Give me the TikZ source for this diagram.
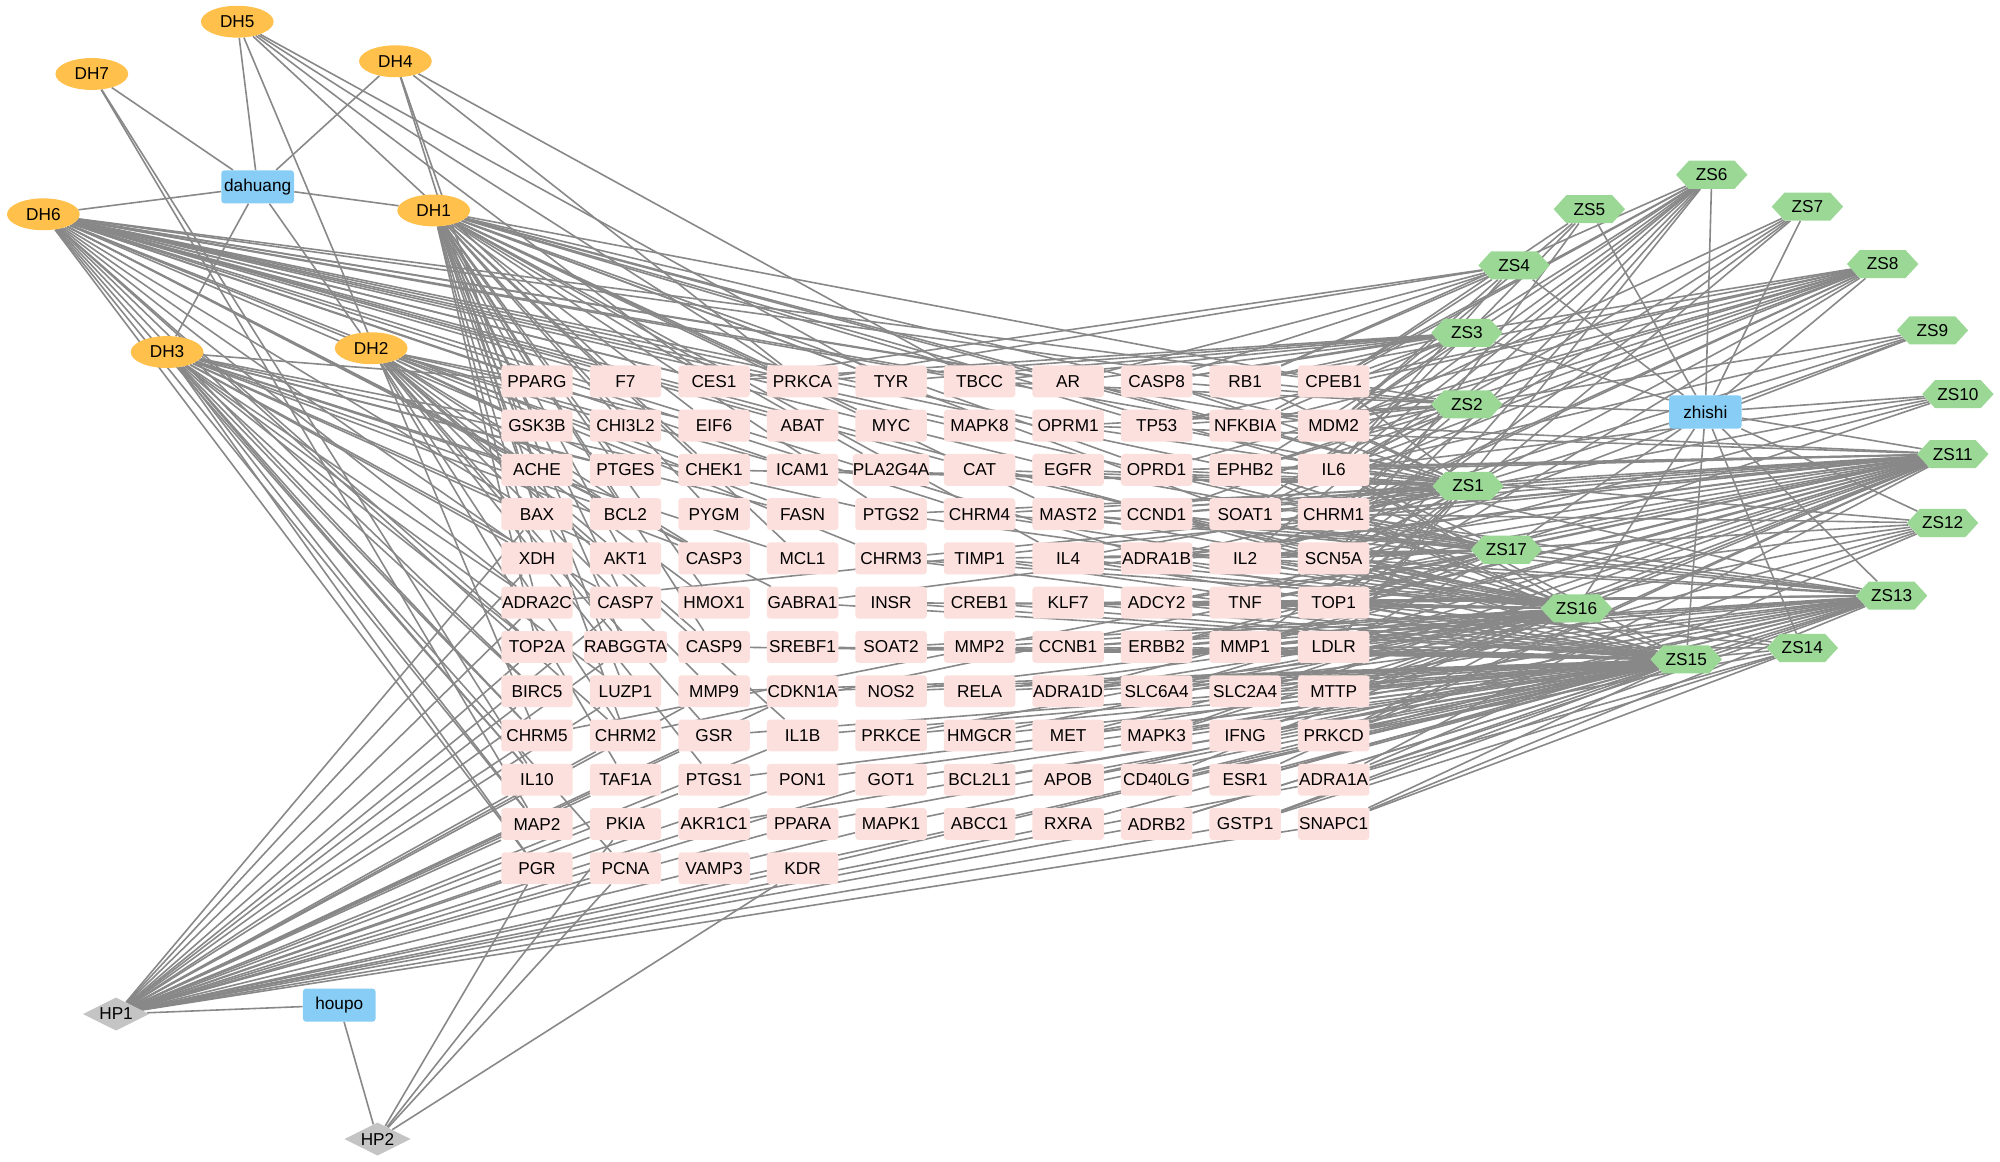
\documentclass[tikz,border=0pt]{standalone}
\usepackage{fontspec}
\setmainfont{Liberation Sans}
\usetikzlibrary{shapes.geometric,shapes.symbols,backgrounds}
\definecolor{tgtfill}{RGB}{252,224,222}
\definecolor{dhfill}{RGB}{255,192,76}
\definecolor{zsfill}{RGB}{155,216,150}
\definecolor{hpfill}{RGB}{196,196,196}
\definecolor{herbfill}{RGB}{135,205,245}
\definecolor{edgecol}{RGB}{136,136,136}
\begin{document}
\begin{tikzpicture}[x=1pt,y=-1pt,
  every node/.style={font=\fontsize{13.5}{15}\selectfont, inner sep=0pt, text=black},
  tgt/.style={rectangle, rounded corners=2.5pt, fill=tgtfill, minimum width=56pt, minimum height=25pt},
  herb/.style={rectangle, rounded corners=2.5pt, fill=herbfill, minimum width=57pt, minimum height=26pt},
  dh/.style={ellipse, fill=dhfill, minimum width=57pt, minimum height=25pt},
  zs/.style={signal, signal to=east and west, signal pointer angle=95, fill=zsfill, minimum width=56pt, minimum height=22pt},
  hp/.style={diamond, aspect=2, fill=hpfill, minimum width=52pt, minimum height=26pt},
  edge/.style={draw=edgecol, line width=1.25pt}]
\useasboundingbox (0,0) rectangle (1568,911);

% ---- targets grid ----
\foreach \n [count=\i from 0] in {PPARG,F7,CES1,PRKCA,TYR,TBCC,AR,CASP8,RB1,CPEB1} \node[tgt] (\n) at ({421+69.4*\i},299) {\n};
\foreach \n [count=\i from 0] in {GSK3B,CHI3L2,EIF6,ABAT,MYC,MAPK8,OPRM1,TP53,NFKBIA,MDM2} \node[tgt] (\n) at ({421+69.4*\i},333.7) {\n};
\foreach \n [count=\i from 0] in {ACHE,PTGES,CHEK1,ICAM1,PLA2G4A,CAT,EGFR,OPRD1,EPHB2,IL6} \node[tgt] (\n) at ({421+69.4*\i},368.4) {\n};
\foreach \n [count=\i from 0] in {BAX,BCL2,PYGM,FASN,PTGS2,CHRM4,MAST2,CCND1,SOAT1,CHRM1} \node[tgt] (\n) at ({421+69.4*\i},403.1) {\n};
\foreach \n [count=\i from 0] in {XDH,AKT1,CASP3,MCL1,CHRM3,TIMP1,IL4,ADRA1B,IL2,SCN5A} \node[tgt] (\n) at ({421+69.4*\i},437.8) {\n};
\foreach \n [count=\i from 0] in {ADRA2C,CASP7,HMOX1,GABRA1,INSR,CREB1,KLF7,ADCY2,TNF,TOP1} \node[tgt] (\n) at ({421+69.4*\i},472.5) {\n};
\foreach \n [count=\i from 0] in {TOP2A,RABGGTA,CASP9,SREBF1,SOAT2,MMP2,CCNB1,ERBB2,MMP1,LDLR} \node[tgt] (\n) at ({421+69.4*\i},507.2) {\n};
\foreach \n [count=\i from 0] in {BIRC5,LUZP1,MMP9,CDKN1A,NOS2,RELA,ADRA1D,SLC6A4,SLC2A4,MTTP} \node[tgt] (\n) at ({421+69.4*\i},541.9) {\n};
\foreach \n [count=\i from 0] in {CHRM5,CHRM2,GSR,IL1B,PRKCE,HMGCR,MET,MAPK3,IFNG,PRKCD} \node[tgt] (\n) at ({421+69.4*\i},576.6) {\n};
\foreach \n [count=\i from 0] in {IL10,TAF1A,PTGS1,PON1,GOT1,BCL2L1,APOB,CD40LG,ESR1,ADRA1A} \node[tgt] (\n) at ({421+69.4*\i},611.3) {\n};
\foreach \n [count=\i from 0] in {MAP2,PKIA,AKR1C1,PPARA,MAPK1,ABCC1,RXRA,ADRB2,GSTP1,SNAPC1} \node[tgt] (\n) at ({421+69.4*\i},646) {\n};
\foreach \n [count=\i from 0] in {PGR,PCNA,VAMP3,KDR} \node[tgt] (\n) at ({421+69.4*\i},680.7) {\n};

% ---- dahuang ----
\node[dh] (DH5) at (186,17) {DH5};
\node[dh] (DH7) at (72,58) {DH7};
\node[dh] (DH4) at (310,48) {DH4};
\node[herb] (dahuang) at (202,146.5) {dahuang};
\node[dh] (DH6) at (34,168) {DH6};
\node[dh] (DH1) at (340,165) {DH1};
\node[dh] (DH3) at (131,276) {DH3};
\node[dh] (DH2) at (291,273) {DH2};

% ---- houpo ----
\node[hp] (HP1) at (91,795) {HP1};
\node[herb] (houpo) at (266,788) {houpo};
\node[hp] (HP2) at (296,893) {HP2};

% ---- zhishi ----
\node[zs] (ZS6) at (1342,137) {ZS6};
\node[zs] (ZS5) at (1246,164) {ZS5};
\node[zs] (ZS7) at (1417,162) {ZS7};
\node[zs] (ZS4) at (1187,208) {ZS4};
\node[zs] (ZS8) at (1476,207) {ZS8};
\node[zs] (ZS3) at (1150,261) {ZS3};
\node[zs] (ZS9) at (1515,259) {ZS9};
\node[herb] (zhishi) at (1337,323) {zhishi};
\node[zs] (ZS2) at (1150,317) {ZS2};
\node[zs] (ZS10) at (1535,309) {ZS10};
\node[zs] (ZS11) at (1531,356) {ZS11};
\node[zs] (ZS1) at (1151,381) {ZS1};
\node[zs] (ZS12) at (1523,410) {ZS12};
\node[zs] (ZS17) at (1181,431) {ZS17};
\node[zs] (ZS13) at (1483,467) {ZS13};
\node[zs] (ZS16) at (1236,477) {ZS16};
\node[zs] (ZS14) at (1413,508) {ZS14};
\node[zs] (ZS15) at (1322,517) {ZS15};

\begin{pgfonlayer}{background}
% herb - compound
\foreach \c in {DH1,DH2,DH3,DH4,DH5,DH6,DH7} \draw[edge] (dahuang) -- (\c);
\foreach \c in {HP1,HP2} \draw[edge] (houpo) -- (\c);
\foreach \c in {ZS1,ZS2,ZS3,ZS4,ZS5,ZS6,ZS7,ZS8,ZS9,ZS10,ZS11,ZS12,ZS13,ZS14,ZS15,ZS16,ZS17} \draw[edge] (zhishi) -- (\c);

% dahuang compounds
\foreach \t in {PPARG,CES1,PRKCA,TYR,AR,GSK3B,CHI3L2,EIF6,MYC,TP53,MDM2,NFKBIA,CPEB1,ACHE,PTGES,CHEK1,PLA2G4A,OPRD1,IL6,BAX,BCL2,PYGM,PTGS2,MAST2,SOAT1,XDH,AKT1,MCL1,IL4,ADRA2C,CASP7,HMOX1,TOP2A,RABGGTA,CASP9,LUZP1,CHRM2} \draw[edge] (DH1) -- (\t);
\foreach \t in {PPARG,F7,CES1,PRKCA,TBCC,AR,RB1,CPEB1,GSK3B,ABAT,MAPK8,NFKBIA,MDM2,OPRM1,ACHE,ICAM1,CAT,EGFR,EPHB2,BAX,FASN,CHRM4,CHRM1,XDH,CASP3,CHRM3,ADRA1B,SCN5A,ADRA2C,GABRA1,TOP2A,BIRC5,CHRM5,CHRM2,IL10,MAP2,PGR} \draw[edge] (DH6) -- (\t);
\foreach \t in {PPARG,GSK3B,ACHE,PTGES,BAX,BCL2,FASN,XDH,AKT1,CASP3,ADRA2C,CASP7,TOP2A,BIRC5,LUZP1,CHRM5,IL10,MAP2,PGR,PCNA,PTGS2,MCL1} \draw[edge] (DH3) -- (\t);
\foreach \t in {PPARG,GSK3B,CHI3L2,PTGES,CHEK1,BCL2,AKT1,CASP3,HMOX1,RABGGTA,CASP9,MMP9,CHRM2,GSR,TAF1A,PTGS1,IL1B,ICAM1,EIF6} \draw[edge] (DH2) -- (\t);
\foreach \t in {F7,CES1,PRKCA,TYR,CHRM5} \draw[edge] (DH5) -- (\t);
\foreach \t in {ACHE,BAX,PRKCA,TBCC} \draw[edge] (DH4) -- (\t);
\foreach \t in {IL10,MAP2} \draw[edge] (DH7) -- (\t);

% houpo compounds
\foreach \t in {BAX,XDH,ADRA2C,TOP2A,BIRC5,CHRM5,CHRM2,IL10,TAF1A,MAP2,PKIA,PGR,PCNA,AKR1C1,PTGS1,GSR,MMP9,LUZP1,RABGGTA,CASP7,PON1,PPARA,MAPK1,GOT1,ABCC1,RXRA,ADRB2,GSTP1,KDR,IL1B,CDKN1A,SNAPC1,ADRA1A} \draw[edge] (HP1) -- (\t);
\foreach \t in {PGR,PCNA,PKIA,KDR} \draw[edge] (HP2) -- (\t);

% zhishi compounds
\foreach \t in {AR,CASP8,RB1,CPEB1,TP53,NFKBIA,MDM2,OPRM1,EGFR,OPRD1,EPHB2,IL6,MAST2,CCND1,SOAT1,CHRM1,IL2,SCN5A,ADRA1B,TNF,TOP1,LDLR,MMP1,PTGS2,ICAM1,CHEK1,CAT,IL4} \draw[edge] (ZS1) -- (\t);
\foreach \t in {CPEB1,MDM2,IL6,RB1,TP53,CASP8,EPHB2,NFKBIA,CHRM1,SOAT1,OPRM1,TBCC} \draw[edge] (ZS2) -- (\t);
\foreach \t in {CPEB1,RB1,CASP8,AR,PRKCA,MDM2,NFKBIA,TYR,CES1,TBCC} \draw[edge] (ZS3) -- (\t);
\foreach \t in {CPEB1,RB1,CASP8,MDM2,IL6,PRKCA,CES1,AR} \draw[edge] (ZS4) -- (\t);
\foreach \t in {CPEB1,MDM2,SCN5A,IL6} \draw[edge] (ZS5) -- (\t);
\foreach \t in {CPEB1,RB1,MDM2,NFKBIA,IL6,EPHB2,CHRM1,SOAT1,SCN5A,TOP1,LDLR,IL2} \draw[edge] (ZS6) -- (\t);
\foreach \t in {IL6,CHRM1,MDM2,SCN5A,TOP1} \draw[edge] (ZS7) -- (\t);
\foreach \t in {CPEB1,RB1,CASP8,MDM2,NFKBIA,TP53,IL6,EPHB2,OPRD1,CHRM1,SOAT1,CCND1,SCN5A,IL2,TOP1} \draw[edge] (ZS8) -- (\t);
\foreach \t in {IL6,CHRM1,SCN5A,MDM2} \draw[edge] (ZS9) -- (\t);
\foreach \t in {IL6,CHRM1,SCN5A,TOP1} \draw[edge] (ZS10) -- (\t);
\foreach \t in {MDM2,IL6,EPHB2,CHRM1,SOAT1,CCND1,MAST2,SCN5A,IL2,ADRA1B,TOP1,TNF,ADCY2,LDLR,MMP1,ERBB2,MTTP,SLC2A4,SLC6A4,PRKCD,IFNG,MAPK3,ADRA1A,ESR1,CD40LG,CHRM4,CHRM3,CHRM2,CHRM5,ADRA1D,ADRA2C,OPRD1,OPRM1,GABRA1} \draw[edge] (ZS11) -- (\t);
\foreach \t in {SCN5A,TOP1,LDLR,MTTP,CHRM1,IL6,PRKCD,ADRA1A} \draw[edge] (ZS12) -- (\t);
\foreach \t in {CHRM1,SCN5A,IL2,TNF,TOP1,ADCY2,KLF7,LDLR,MMP1,ERBB2,CCNB1,MTTP,SLC2A4,SLC6A4,ADRA1D,PRKCD,IFNG,MAPK3,MET,ADRA1A,ESR1,CD40LG,APOB,SNAPC1,GSTP1,ADRB2,IL6,SOAT1,CCND1,MAST2} \draw[edge] (ZS13) -- (\t);
\foreach \t in {LDLR,MTTP,PRKCD,ADRA1A,SNAPC1,GSTP1,TOP1,SCN5A} \draw[edge] (ZS14) -- (\t);
\foreach \t in {SCN5A,TOP1,TNF,ADCY2,KLF7,CREB1,INSR,GABRA1,LDLR,MMP1,ERBB2,CCNB1,MMP2,SOAT2,SREBF1,CASP9,MTTP,SLC2A4,SLC6A4,ADRA1D,RELA,NOS2,CDKN1A,MMP9,PRKCD,IFNG,MAPK3,MET,HMGCR,PRKCE,IL1B,GSR,ADRA1A,ESR1,CD40LG,APOB,BCL2L1,GOT1,PON1,PTGS1,SNAPC1,GSTP1,ADRB2,RXRA,ABCC1,MAPK1,PPARA,AKR1C1,KDR,IL2,ADRA1B,IL4,TIMP1,CHRM3,CHRM1,IL6,CCND1} \draw[edge] (ZS15) -- (\t);
\foreach \t in {CHRM1,SOAT1,CCND1,MAST2,CHRM4,PTGS2,SCN5A,IL2,ADRA1B,IL4,TIMP1,CHRM3,TOP1,TNF,ADCY2,KLF7,CREB1,INSR,LDLR,MMP1,ERBB2,CCNB1,MMP2,SOAT2,MTTP,SLC2A4,SLC6A4,ADRA1D,RELA,NOS2,PRKCD,IFNG,MAPK3,MET,HMGCR,PRKCE,IL6,EPHB2,CAT} \draw[edge] (ZS16) -- (\t);
\foreach \t in {SCN5A,TOP1,IL2,TNF,ADRA1B,CCND1,SOAT1,CHRM1,IL6,MAST2,LDLR,MMP1,ERBB2,ADCY2,IL4,TIMP1,CHRM4,EGFR,OPRD1,EPHB2} \draw[edge] (ZS17) -- (\t);
\end{pgfonlayer}
\end{tikzpicture}
\end{document}
